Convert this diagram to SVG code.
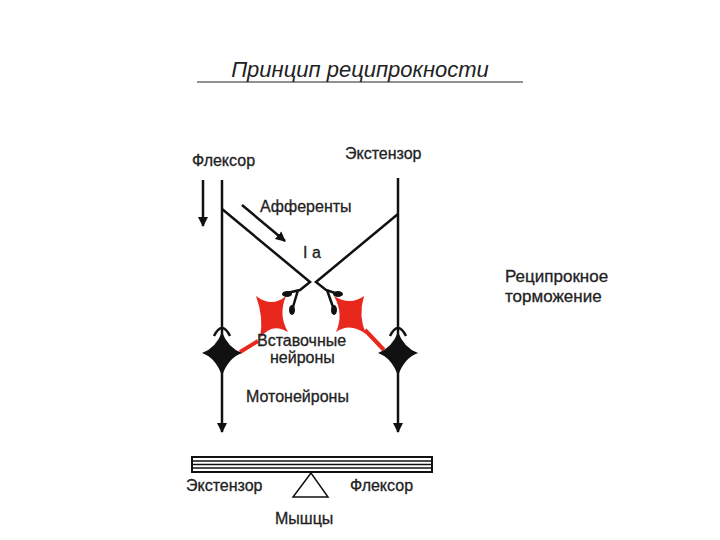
<svg xmlns="http://www.w3.org/2000/svg" width="720" height="540" viewBox="0 0 720 540">
<style>
text{font-family:"Liberation Sans",Arial,sans-serif;fill:#222}
.l{font-size:16px;stroke:#222;stroke-width:0.3}
.ln{stroke:#111;stroke-width:2.5;fill:none}
.red{fill:#e8281c}
</style>
<defs>
<marker id="a" viewBox="0 0 10 10" refX="9" refY="5" markerWidth="4" markerHeight="5" orient="auto"><path d="M0,0L10,5L0,10z" fill="#111"/></marker>
</defs>
<rect width="720" height="540" fill="#fff"/>
<text x="360" y="77" font-size="22" font-style="italic" text-anchor="middle">Принцип реципрокности</text>
<line x1="197" y1="82" x2="523" y2="82" stroke="#222" stroke-width="1.2"/>
<g id="connectors">
<line class="ln" x1="222" y1="180" x2="222" y2="432" marker-end="url(#a)"/>
<line class="ln" x1="398" y1="178" x2="398" y2="432" marker-end="url(#a)"/>
<line class="ln" x1="203" y1="180" x2="203" y2="226" marker-end="url(#a)"/>
<line class="ln" x1="242" y1="205" x2="285" y2="241" stroke-width="2" marker-end="url(#a)"/>
<path class="ln" d="M222,209L310,282L300,290L287,293"/>
<path class="ln" d="M298,290L293,307"/>
<path class="ln" d="M398,214L316,282L326,290L338,294"/>
<path class="ln" d="M327,290L333,307"/>
<path d="M258,341L240,352" stroke="#e8281c" stroke-width="4"/>
<path d="M365,330L384,350" stroke="#e8281c" stroke-width="4"/>
</g>
<g id="interneuron-left">
<path class="red" d="M256,296Q272,308 286,296Q278,315 288,332Q272,322 260,338Q264,318 256,296z"/>
<ellipse cx="287" cy="294" rx="5" ry="3" fill="#111"/>
<ellipse cx="292" cy="310" rx="3" ry="5" fill="#111"/>
</g>
<g id="interneuron-right">
<path class="red" d="M334,296Q350,306 364,296Q358,316 366,334Q350,322 336,332Q344,314 334,296z"/>
<ellipse cx="338" cy="294" rx="5" ry="3" fill="#111"/>
<ellipse cx="334" cy="310" rx="3" ry="5" fill="#111"/>
</g>
<g id="motoneuron-left">
<path d="M222,332Q228,348 242,353Q228,358 222,376Q216,358 202,353Q216,348 222,332z" fill="#111"/>
<path d="M214,336Q222,320 230,336" class="ln" stroke-width="2"/>
</g>
<g id="motoneuron-right">
<path d="M398,332Q404,348 418,353Q404,358 398,376Q392,358 378,353Q392,348 398,332z" fill="#111"/>
<path d="M390,336Q398,320 406,336" class="ln" stroke-width="2"/>
</g>
<g id="muscles">
<rect x="192" y="457" width="240" height="15" fill="#fff" stroke="#111" stroke-width="2"/>
<line x1="192" y1="461" x2="432" y2="461" stroke="#111" stroke-width="1.5"/>
<line x1="192" y1="464.5" x2="432" y2="464.5" stroke="#111" stroke-width="1.5"/>
<line x1="192" y1="468" x2="432" y2="468" stroke="#111" stroke-width="1.5"/>
<path d="M311,473L293,497L328,497z" fill="#fff" stroke="#111" stroke-width="1.5"/>
</g>
<g id="labels" class="l">
<text x="192" y="166">Флексор</text>
<text x="345" y="159">Экстензор</text>
<text x="260" y="212">Афференты</text>
<text x="303" y="258">I a</text>
<text x="257" y="346">Вставочные</text>
<text x="270" y="363">нейроны</text>
<text x="246" y="402">Мотонейроны</text>
<text x="186" y="491">Экстензор</text>
<text x="350" y="491">Флексор</text>
<text x="275" y="524">Мышцы</text>
<text x="505" y="282" font-size="17">Реципрокное</text>
<text x="505" y="302" font-size="17">торможение</text>
</g>
</svg>
